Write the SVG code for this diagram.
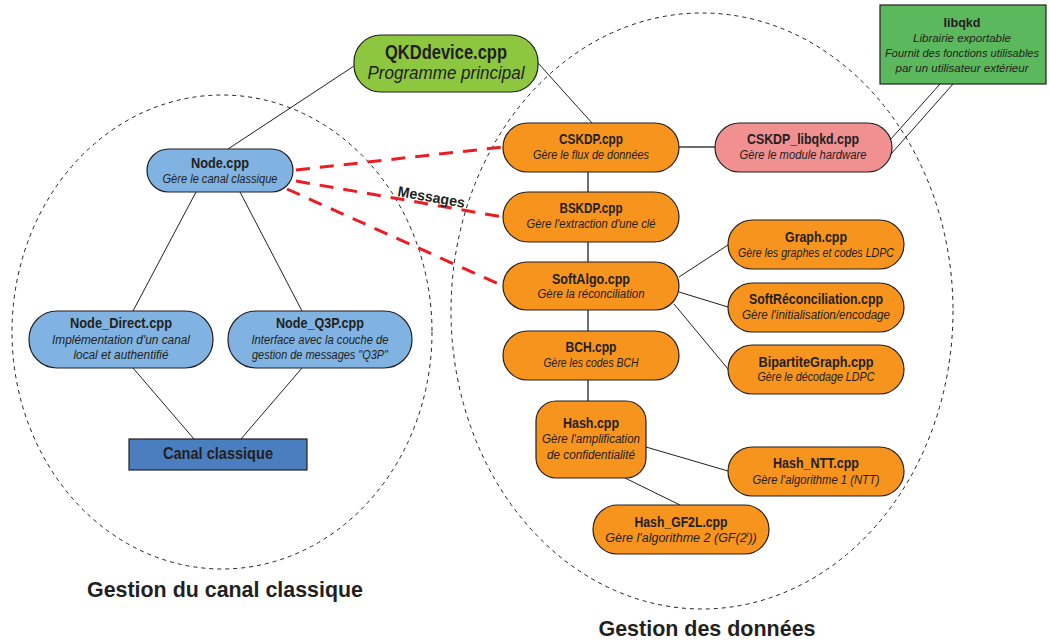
<svg xmlns="http://www.w3.org/2000/svg" width="1049" height="642" viewBox="0 0 1049 642">
<style>
text{font-family:"Liberation Sans",Arial,sans-serif;fill:#231f20;text-anchor:middle}
.t{font-weight:bold;font-size:14px}
.s{font-style:italic;font-size:12.5px}
.ls{font-style:italic;font-size:11.5px}
.box{stroke:#231f20;stroke-width:1.2}
.or{fill:#f7941d}
.bl{fill:#80b3e1}
.ln{stroke:#231f20;stroke-width:1;fill:none}
.gr{stroke:#6d6e71;stroke-width:2;fill:none}
.red{stroke:#ed1c24;stroke-width:3;stroke-dasharray:14 10;fill:none}
.zone{fill:none;stroke:#231f20;stroke-width:1;stroke-dasharray:4 4}
.big{font-weight:bold;font-size:22px}
</style>
<g id="zones">
<ellipse class="zone" cx="222" cy="332" rx="210" ry="237"/>
<ellipse class="zone" cx="702" cy="311" rx="251" ry="298"/>
<text class="big" x="225" y="597" textLength="276" lengthAdjust="spacingAndGlyphs">Gestion du canal classique</text>
<text class="big" x="707" y="636" textLength="217" lengthAdjust="spacingAndGlyphs">Gestion des données</text>
</g>
<g id="connectors">
<line class="ln" x1="228" y1="149" x2="354" y2="66"/>
<line class="ln" x1="538" y1="63" x2="592" y2="123"/>
<line class="ln" x1="196" y1="192" x2="133" y2="311"/>
<line class="ln" x1="240" y1="192" x2="302" y2="311"/>
<line class="ln" x1="133" y1="368" x2="194" y2="439"/>
<line class="ln" x1="302" y1="368" x2="241" y2="439"/>
<line class="gr" x1="588" y1="172" x2="588" y2="401"/>
<line class="gr" x1="679" y1="147" x2="715" y2="147"/>
<line class="ln" x1="679" y1="277" x2="728" y2="245"/>
<line class="ln" x1="679" y1="292" x2="728" y2="307"/>
<line class="ln" x1="674" y1="304" x2="728" y2="369"/>
<line class="ln" x1="646" y1="447" x2="728" y2="471"/>
<line class="ln" x1="625" y1="478" x2="680" y2="505"/>
<line class="ln" x1="940" y1="84" x2="890" y2="140"/>
<line class="ln" x1="953" y1="84" x2="891" y2="154"/>
<line class="red" x1="296" y1="170" x2="503" y2="147"/>
<line class="red" x1="296" y1="181" x2="503" y2="217"/>
<line class="red" x1="287" y1="189" x2="503" y2="286"/>
<text transform="rotate(10 397 196)" x="431" y="196" style="font-weight:bold;font-size:14.5px" textLength="68" lengthAdjust="spacingAndGlyphs">Messages</text>
</g>
<g id="qkddevice">
<rect class="box" x="354" y="35" width="184" height="57" rx="27" fill="#8dc63f"/>
<text x="446" y="59" style="font-weight:bold;font-size:20px" textLength="122" lengthAdjust="spacingAndGlyphs">QKDdevice.cpp</text>
<text x="446" y="79" style="font-style:italic;font-size:18px" textLength="157" lengthAdjust="spacingAndGlyphs">Programme principal</text>
</g>
<g id="libqkd">
<rect class="box" x="880" y="5" width="166" height="79" fill="#5cb85c"/>
<text x="962" y="27" style="font-weight:bold;font-size:13px" textLength="37" lengthAdjust="spacingAndGlyphs">libqkd</text>
<text class="ls" x="962" y="42" textLength="98" lengthAdjust="spacingAndGlyphs">Librairie exportable</text>
<text class="ls" x="962" y="57" textLength="154" lengthAdjust="spacingAndGlyphs">Fournit des fonctions utilisables</text>
<text class="ls" x="962" y="72" textLength="133" lengthAdjust="spacingAndGlyphs">par un utilisateur extérieur</text>
</g>
<g id="cskdp">
<rect class="box or" x="503" y="123" width="176" height="49" rx="24.5"/>
<text class="t" x="591" y="144" textLength="64" lengthAdjust="spacingAndGlyphs">CSKDP.cpp</text>
<text class="s" x="591" y="159" textLength="116" lengthAdjust="spacingAndGlyphs">Gère le flux de données</text>
</g>
<g id="cskdp_libqkd">
<rect class="box" x="715" y="123" width="177" height="49" rx="24.5" fill="#f09090"/>
<text class="t" x="803" y="144" textLength="112" lengthAdjust="spacingAndGlyphs">CSKDP_libqkd.cpp</text>
<text class="s" x="803" y="159" textLength="127" lengthAdjust="spacingAndGlyphs">Gère le module hardware</text>
</g>
<g id="bskdp">
<rect class="box or" x="503" y="192" width="176" height="50" rx="25"/>
<text class="t" x="591" y="213" textLength="63" lengthAdjust="spacingAndGlyphs">BSKDP.cpp</text>
<text class="s" x="591" y="228" textLength="129" lengthAdjust="spacingAndGlyphs">Gère l'extraction d'une clé</text>
</g>
<g id="softalgo">
<rect class="box or" x="503" y="262" width="176" height="48" rx="24"/>
<text class="t" x="591" y="284" textLength="78" lengthAdjust="spacingAndGlyphs">SoftAlgo.cpp</text>
<text class="s" x="591" y="298" textLength="107" lengthAdjust="spacingAndGlyphs">Gère la réconciliation</text>
</g>
<g id="bch">
<rect class="box or" x="503" y="331" width="176" height="49" rx="24.5"/>
<text class="t" x="591" y="352" textLength="51" lengthAdjust="spacingAndGlyphs">BCH.cpp</text>
<text class="s" x="591" y="367" textLength="95" lengthAdjust="spacingAndGlyphs">Gère les codes BCH</text>
</g>
<g id="hash">
<rect class="box or" x="536" y="401" width="110" height="77" rx="20"/>
<text class="t" x="591" y="428" textLength="56" lengthAdjust="spacingAndGlyphs">Hash.cpp</text>
<text class="s" x="591" y="443" textLength="98" lengthAdjust="spacingAndGlyphs">Gère l'amplification</text>
<text class="s" x="591" y="459" textLength="88" lengthAdjust="spacingAndGlyphs">de confidentialité</text>
</g>
<g id="graph">
<rect class="box or" x="728" y="220" width="176" height="49" rx="24.5"/>
<text class="t" x="816" y="242" textLength="62" lengthAdjust="spacingAndGlyphs">Graph.cpp</text>
<text class="s" x="816" y="257" textLength="156" lengthAdjust="spacingAndGlyphs">Gère les graphes et codes LDPC</text>
</g>
<g id="softreconciliation">
<rect class="box or" x="728" y="283" width="176" height="49" rx="24.5"/>
<text class="t" x="816" y="304" textLength="134" lengthAdjust="spacingAndGlyphs">SoftRéconciliation.cpp</text>
<text class="s" x="816" y="319" textLength="148" lengthAdjust="spacingAndGlyphs">Gère l'initialisation/encodage</text>
</g>
<g id="bipartitegraph">
<rect class="box or" x="728" y="345" width="176" height="49" rx="24.5"/>
<text class="t" x="816" y="367" textLength="115" lengthAdjust="spacingAndGlyphs">BipartiteGraph.cpp</text>
<text class="s" x="816" y="381" textLength="117" lengthAdjust="spacingAndGlyphs">Gère le décodage LDPC</text>
</g>
<g id="hash_ntt">
<rect class="box or" x="728" y="447" width="176" height="49" rx="24.5"/>
<text class="t" x="816" y="468" textLength="86" lengthAdjust="spacingAndGlyphs">Hash_NTT.cpp</text>
<text class="s" x="816" y="484" textLength="127" lengthAdjust="spacingAndGlyphs">Gère l'algorithme 1 (NTT)</text>
</g>
<g id="hash_gf2l">
<rect class="box or" x="593" y="505" width="176" height="49" rx="24.5"/>
<text class="t" x="681" y="527" textLength="93" lengthAdjust="spacingAndGlyphs">Hash_GF2L.cpp</text>
<text class="s" x="681" y="542">Gère l'algorithme 2 (GF(2<tspan font-size="8" dy="-5">l</tspan><tspan dy="5">))</tspan></text>
</g>
<g id="node">
<rect class="box bl" x="147" y="149" width="146" height="43" rx="21.5"/>
<text class="t" x="220" y="168" textLength="58" lengthAdjust="spacingAndGlyphs">Node.cpp</text>
<text class="s" x="220" y="183" textLength="115" lengthAdjust="spacingAndGlyphs">Gère le canal classique</text>
</g>
<g id="node_direct">
<rect class="box bl" x="29" y="311" width="184" height="57" rx="28"/>
<text class="t" x="121" y="328" textLength="102" lengthAdjust="spacingAndGlyphs">Node_Direct.cpp</text>
<text class="s" x="121" y="344" textLength="138" lengthAdjust="spacingAndGlyphs">Implémentation d'un canal</text>
<text class="s" x="121" y="359" textLength="95" lengthAdjust="spacingAndGlyphs">local et authentifié</text>
</g>
<g id="node_q3p">
<rect class="box bl" x="228" y="311" width="184" height="57" rx="28"/>
<text class="t" x="320" y="328" textLength="88" lengthAdjust="spacingAndGlyphs">Node_Q3P.cpp</text>
<text class="s" x="320" y="344" textLength="137" lengthAdjust="spacingAndGlyphs">Interface avec la couche de</text>
<text class="s" x="320" y="359" textLength="136" lengthAdjust="spacingAndGlyphs">gestion de messages "Q3P"</text>
</g>
<g id="canal_classique">
<rect class="box" x="129" y="439" width="178" height="31" fill="#4a7ebf"/>
<text x="218" y="459" style="font-weight:bold;font-size:16px" textLength="110" lengthAdjust="spacingAndGlyphs">Canal classique</text>
</g>
</svg>
